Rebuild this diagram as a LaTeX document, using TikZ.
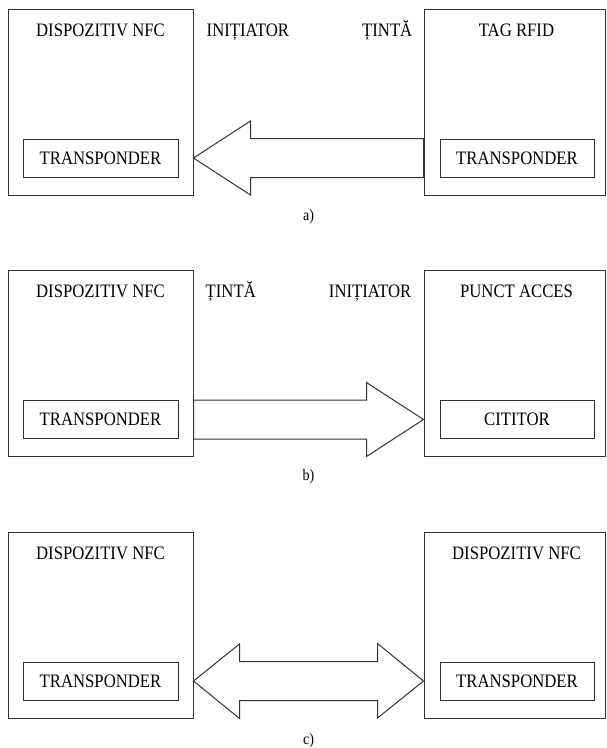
\documentclass[tikz,border=0pt]{standalone}
\usepackage{fontspec}
\setmainfont{Liberation Serif}[FakeStretch=0.88]
\usepackage{tikz}
\usetikzlibrary{positioning,calc}

\tikzset{
  box/.style={draw=black!80, line width=1pt, inner sep=0pt, minimum width=185pt, minimum height=186pt},
  lbl/.style={font=\rmfamily\fontsize{19}{21}\selectfont, inner sep=0pt, text height=12.6pt, text depth=4pt},
  inbox/.style={draw=black!80, line width=1pt, lbl, text depth=0pt, minimum width=155pt, minimum height=38pt},
  capt/.style={font=\rmfamily\fontsize{16}{18}\selectfont, inner sep=0pt},
  fat/.style={draw=black!80, line width=1pt, line join=miter}
}

\begin{document}
\begin{tikzpicture}[x=1pt, y=1pt]
    \useasboundingbox (0,0) rectangle (606,-748);

    \node[box] (devA) at (100.5,-102) {};
    \node[box, minimum width=181pt] (tagA) at (514.5,-102) {};
    \node[inbox, above=18pt of devA.south] (trA) {TRANSPONDER};
    \node[inbox, minimum width=154pt, above=18pt of tagA.south, xshift=2.5pt] (trA2) {TRANSPONDER};
    \node[lbl, below=15pt of devA.north] (ttlA) {DISPOZITIV NFC};
    \node[lbl, below=15pt of tagA.north, xshift=2pt] (ttlA2) {TAG RFID};
    \node[lbl, anchor=west] (iniA) at ($(ttlA.center -| devA.east)+(13,0)$) {INIȚIATOR};
    \node[lbl, anchor=east] (tinA) at ($(ttlA.center -| tagA.west)+(-11,0)$) {ȚINTĂ};
    \draw[fat] (devA.east |- trA) -- ++(57,37) |- (tagA.west |- trA.north) -- (tagA.west |- trA.south) -| ($(devA.east |- trA)+(57,-37)$) -- cycle;
    \node[capt] (capA) at ($(devA.south east)!0.5!(tagA.south west)+(0,-21)$) {a)};

    \node[box] (devB) at (100.5,-363.5) {};
    \node[box, minimum width=181pt] (tagB) at (514.5,-363.5) {};
    \node[inbox, above=18pt of devB.south] (trB) {TRANSPONDER};
    \node[inbox, minimum width=154pt, above=18pt of tagB.south, xshift=2.5pt] (ctB) {CITITOR};
    \node[lbl, below=15pt of devB.north] (ttlB) {DISPOZITIV NFC};
    \node[lbl, below=15pt of tagB.north, xshift=2pt] (ttlB2) {PUNCT ACCES};
    \node[lbl, anchor=west] (tinB) at ($(ttlB.center -| devB.east)+(12,0)$) {ȚINTĂ};
    \node[lbl, anchor=east] (iniB) at ($(ttlB.center -| tagB.west)+(-12,0)$) {INIȚIATOR};
    \draw[fat] (tagB.west |- trB) -- ++(-57,37) |- (devB.east |- trB.north) -- (devB.east |- trB.south) -| ($(tagB.west |- trB)+(-57,-37)$) -- cycle;
    \node[capt] (capB) at ($(devB.south east)!0.5!(tagB.south west)+(0,-20)$) {b)};

    \node[box] (devC) at (100.5,-625) {};
    \node[box, minimum width=181pt] (devD) at (514.5,-625) {};
    \node[inbox, above=18pt of devC.south] (trC) {TRANSPONDER};
    \node[inbox, minimum width=154pt, above=18pt of devD.south, xshift=2.5pt] (trD) {TRANSPONDER};
    \node[lbl, below=15pt of devC.north] (ttlC) {DISPOZITIV NFC};
    \node[lbl, below=15pt of devD.north, xshift=2pt] (ttlD) {DISPOZITIV NFC};
    \draw[fat] (devC.east |- trC) -- ++(46,37) |- ($(devD.west |- trC.north)+(-46,0)$) -- ++(0,18) -- (devD.west |- trC) -- ++(-46,-37) |- ($(devC.east |- trC.south)+(46,0)$) -- ++(0,-18) -- cycle;
    \node[capt] (capC) at ($(devC.south east)!0.5!(devD.south west)+(0,-22)$) {c)};
\end{tikzpicture}
\end{document}
